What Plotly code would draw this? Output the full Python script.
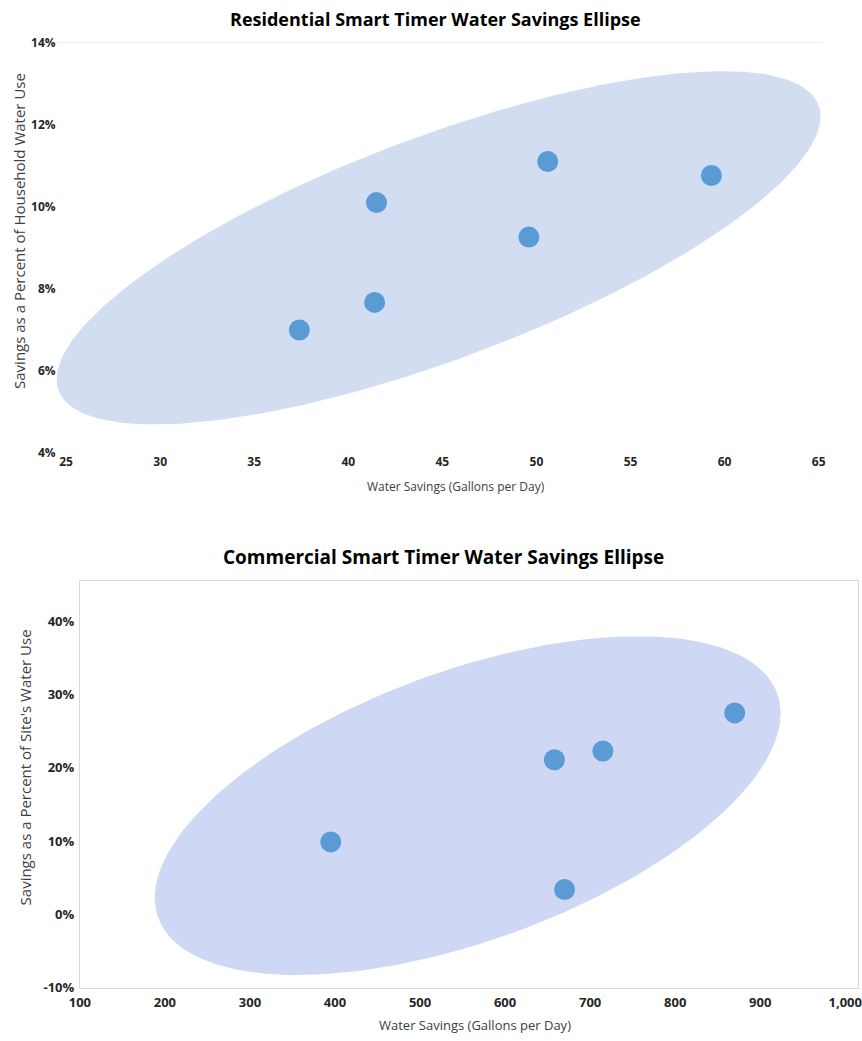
import numpy as np
import plotly.graph_objects as go

# ---------------- data ----------------
res_x = [37.4, 41.4, 41.5, 49.6, 50.6, 59.3]          # gallons per day
res_y = [7.0, 7.67, 10.1, 9.26, 11.1, 10.76]          # % of household use
com_x = [395, 658, 670, 715, 870]
com_y = [9.9, 21.1, 3.4, 22.3, 27.5]

res_xticks = [25, 30, 35, 40, 45, 50, 55, 60, 65]
res_yticks = [4, 6, 8, 10, 12, 14]
com_xticks = [100, 200, 300, 400, 500, 600, 700, 800, 900, 1000]
com_yticks = [-10, 0, 10, 20, 30, 40]

# ellipse parameters: centre x, half-width, centre y, half-height, phase (deg)
res_ell = dict(cx=44.8, w=20.3, cy=9.0, h=4.3, phi=42.0)
com_ell = dict(cx=556, w=368, cy=14.85, h=23.1, phi=57.0)

W, H = 862, 1041
BLUE = "#5b9bd5"
FILL = "rgb(210,221,242)"
FILL2 = "rgb(206,216,244)"
FONT = "Open Sans"


def ellipse(p):
    t = np.linspace(0, 2 * np.pi, 241)
    ph = np.deg2rad(p["phi"])
    return p["cx"] + p["w"] * np.cos(t), p["cy"] + p["h"] * np.cos(t - ph)


fig = go.Figure()

ex, ey = ellipse(res_ell)
fig.add_trace(go.Scatter(x=ex, y=ey, mode="lines", fill="toself", fillcolor=FILL,
                         line=dict(width=0, color=FILL), hoverinfo="skip",
                         xaxis="x", yaxis="y", showlegend=False))
fig.add_trace(go.Scatter(x=res_x, y=res_y, mode="markers",
                         marker=dict(size=21, color=BLUE), xaxis="x", yaxis="y",
                         showlegend=False))

ex2, ey2 = ellipse(com_ell)
fig.add_trace(go.Scatter(x=ex2, y=ey2, mode="lines", fill="toself", fillcolor=FILL2,
                         line=dict(width=0, color=FILL2), hoverinfo="skip",
                         xaxis="x2", yaxis="y2", showlegend=False))
fig.add_trace(go.Scatter(x=com_x, y=com_y, mode="markers",
                         marker=dict(size=21, color=BLUE), xaxis="x2", yaxis="y2",
                         showlegend=False))


def px(v):
    return v / W


def py(v):
    return 1 - v / H


tickfont = dict(family=FONT, size=12, color="#262626")

fig.update_layout(
    width=W, height=H,
    margin=dict(l=0, r=0, t=0, b=0),
    paper_bgcolor="white", plot_bgcolor="white",
    font=dict(family=FONT, color="#404040"),
    xaxis=dict(domain=[px(46.4), px(824.8)], range=[24.5, 65.2],
               tickvals=res_xticks, ticktext=[f"<b>{v}</b>" for v in res_xticks],
               showgrid=False, zeroline=False, showline=False, ticks="",
               tickfont=tickfont, anchor="y", fixedrange=True),
    yaxis=dict(domain=[py(452), py(34)], range=[4, 14],
               tickvals=res_yticks, ticktext=[f"<b>{v}%</b>" for v in res_yticks],
               showgrid=False, zeroline=False, showline=False, ticks="",
               tickfont=tickfont, anchor="x", fixedrange=True),
    xaxis2=dict(domain=[px(70), px(861)], range=[100, 1015],
                tickvals=com_xticks,
                ticktext=[f"<b>{v:,}</b>" for v in com_xticks],
                showgrid=False, zeroline=False, showline=True, mirror=True,
                linecolor="#d9d9d9", linewidth=1, ticks="",
                tickfont=dict(family=FONT, size=13, color="#262626"),
                ticklabelstandoff=3,
                anchor="y2", fixedrange=True),
    yaxis2=dict(domain=[py(996), py(582)], range=[-10, 45.5],
                tickvals=com_yticks, ticktext=[f"<b>{v}%</b>" for v in com_yticks],
                showgrid=False, zeroline=False, showline=True, mirror=True,
                linecolor="#d9d9d9", linewidth=1, ticks="",
                tickfont=dict(family=FONT, size=13, color="#262626"),
                ticklabelstandoff=2,
                anchor="x2", fixedrange=True),
)

# top gridline at 14%
fig.add_shape(type="line", xref="x domain", yref="y", x0=0, x1=1, y0=14, y1=14,
              line=dict(color="#d9d9d9", width=1))

ann = [
    dict(text="<b>Residential Smart Timer Water Savings Ellipse</b>", x=px(431), y=py(10),
         font=dict(size=18, color="#000000")),
    dict(text="Water Savings (Gallons per Day)", x=px(452), y=py(486),
         font=dict(size=12, color="#404040")),
    dict(text="Savings as a Percent of Household Water Use", x=px(8), y=py(226),
         textangle=-90, font=dict(size=15, color="#404040")),
    dict(text="<b>Commercial Smart Timer Water Savings Ellipse</b>", x=px(440), y=py(558),
         font=dict(size=19, color="#000000")),
    dict(text="Water Savings (Gallons per Day)", x=px(472), y=py(1034),
         font=dict(size=13, color="#404040")),
    dict(text="Savings as a Percent of Site's Water Use", x=px(14), y=py(772),
         textangle=-90, font=dict(size=15, color="#404040")),
]
for a in ann:
    fig.add_annotation(xref="paper", yref="paper", showarrow=False,
                       xanchor="center", yanchor="middle",
                       **{k: v for k, v in a.items() if k != "font"},
                       font=dict(family=FONT, **a["font"]))

fig.write_html("out.html",
               config={"displayModeBar": False},
               post_script="document.body.style.margin='0';"
                           "document.body.style.overflow='hidden';")
